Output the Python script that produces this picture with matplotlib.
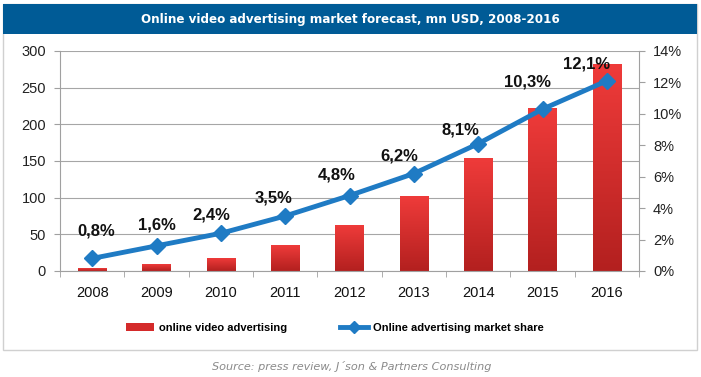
import numpy as np
import matplotlib
matplotlib.use("Agg")
import matplotlib.pyplot as plt
from matplotlib.patches import Rectangle
from matplotlib.lines import Line2D
from matplotlib.colors import LinearSegmentedColormap

years = ["2008", "2009", "2010", "2011", "2012", "2013", "2014", "2015", "2016"]
video_ad = [4, 9, 17, 35, 62, 102, 153, 221, 281]
market_share = [0.8, 1.6, 2.4, 3.5, 4.8, 6.2, 8.1, 10.3, 12.1]
share_labels = ["0,8%", "1,6%", "2,4%", "3,5%", "4,8%", "6,2%", "8,1%", "10,3%", "12,1%"]

# hand placed label offsets (pixels), as in the original chart
label_dx = [4, 0, -10, -12, -13, -15, -18, -15, -20]
label_dy = [27, 21, 18, 18, 21, 18, 14, 27, 17]

plt.rcParams["font.family"] = ["Liberation Sans", "DejaVu Sans"]

W, H = 701, 377
fig = plt.figure(figsize=(W / 100, H / 100), dpi=100)

# frame and title band
fig.patches.append(Rectangle((3 / W, 1 - 350 / H), 694 / W, 346 / H,
                             transform=fig.transFigure, facecolor="white",
                             edgecolor="#d0d0d0", lw=1, zorder=-10))
fig.patches.append(Rectangle((3 / W, 1 - 34 / H), 694 / W, 30 / H,
                             transform=fig.transFigure, facecolor="#005b96",
                             edgecolor="none", zorder=-9))
fig.text(0.5, 1 - 19 / H, "Online video advertising market forecast, mn USD, 2008-2016",
         ha="center", va="center", color="white", fontsize=9.5,
         fontweight="bold", family="DejaVu Sans", fontstretch="condensed")

ax = fig.add_axes([60 / W, 1 - 271 / H, 579 / W, 220 / H])
ax.patch.set_alpha(0)
x = np.arange(len(years))
bw = 0.44

red_cmap = LinearSegmentedColormap.from_list("red", ["#b3201f", "#ef3b3a"])
grad = np.linspace(0, 1, 256).reshape(-1, 1)
for xi, v in zip(x, video_ad):
    ax.imshow(grad, cmap=red_cmap, origin="lower", aspect="auto",
              extent=(xi - bw / 2, xi + bw / 2, 0, v), zorder=2)

ax.set_xlim(-0.5, len(years) - 0.5)
ax.set_ylim(0, 300)
ax.set_yticks(range(0, 301, 50))
ax.set_xticks(x)
ax.set_xticklabels(years)
ax.set_xticks(np.arange(-0.5, len(years), 1), minor=True)
ax.tick_params(axis="x", which="major", length=0, pad=11, labelsize=10.5, colors="#111111")
ax.tick_params(axis="x", which="minor", length=4, color="#a0a0a0")
ax.tick_params(axis="y", length=4, color="#a0a0a0", labelsize=10.5, labelcolor="#222222", pad=6)
ax.grid(axis="y", color="#a6a6a6", lw=0.8, zorder=0)
ax.set_axisbelow(True)
for s in ["top", "right"]:
    ax.spines[s].set_visible(False)
for s in ["left", "bottom"]:
    ax.spines[s].set_color("#a0a0a0")

ax2 = ax.twinx()
ax2.set_ylim(0, 14)
ax2.set_yticks(range(0, 15, 2))
ax2.set_yticklabels([f"{t}%" for t in range(0, 15, 2)])
ax2.tick_params(axis="y", length=4, color="#a0a0a0", labelsize=10.5, labelcolor="#222222", pad=6)
for s in ["top", "left", "bottom"]:
    ax2.spines[s].set_visible(False)
ax2.spines["right"].set_color("#a0a0a0")

line_color = "#1f7bc4"
ax2.plot(x, market_share, color=line_color, lw=3.5, marker="D", ms=8,
         markeredgecolor=line_color, zorder=4)
for xi, v, lab, dx, dy in zip(x, market_share, share_labels, label_dx, label_dy):
    ax2.annotate(lab, (xi, v), xytext=(dx, dy), textcoords="offset pixels",
                 ha="center", va="center", fontsize=12, fontweight="bold",
                 color="#111111", zorder=5)

handles = [Rectangle((0, 0), 1, 1, facecolor="#d42a2a", edgecolor="none"),
           Line2D([], [], color=line_color, lw=3.5, marker="D", ms=6)]
fig.legend(handles, ["online video advertising", "Online advertising market share"],
           loc="center", bbox_to_anchor=(0.478, 1 - 328 / H), ncol=2, frameon=False,
           prop={"size": 8, "weight": "bold"}, columnspacing=4.8,
           handlelength=2.5, handletextpad=0.45)

fig.text(352 / W, 1 - 367 / H, "Source: press review, J\u00b4son & Partners Consulting",
         ha="center", va="center", fontsize=8.1, style="italic", color="#8a8a8a",
         family="DejaVu Sans")

fig.savefig("out.png", dpi=100)
